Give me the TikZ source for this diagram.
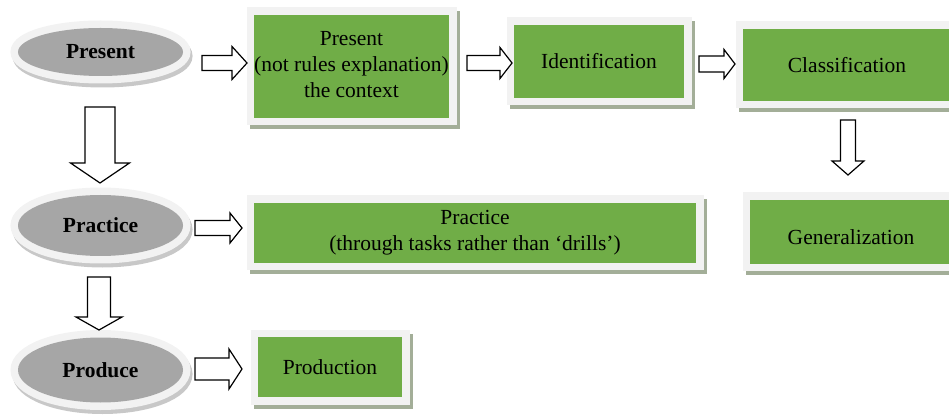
\documentclass[tikz,border=0pt]{standalone}
\usepackage{fontspec}
\setmainfont{Liberation Serif}
\usepackage{tikz}
\usetikzlibrary{
  shapes.geometric,
  positioning,
  calc
}
\definecolor{pppGreen}{RGB}{112,173,71}
\definecolor{pppFrame}{RGB}{242,242,242}
\definecolor{pppShade}{RGB}{163,174,152}
\definecolor{pppDisc}{RGB}{166,166,166}
\definecolor{pppRim}{RGB}{200,200,200}

\tikzset{
  stagebox/.style={fill=pppGreen, inner sep=0pt, outer sep=0pt, align=center,
    preaction={draw=pppShade, fill=pppShade, line width=15pt,
      transform canvas={shift={(3pt,-4pt)}}},
    preaction={draw=pppFrame, fill=pppFrame, line width=15pt}},
  stagedisc/.style={ellipse, fill=pppDisc, inner sep=0pt, outer sep=0pt,
    minimum width=165pt, font=\fontsize{21.5}{26}\selectfont\bfseries,
    preaction={draw=pppRim, line width=15pt,
      transform canvas={shift={(2pt,-4pt)}}},
    preaction={draw=pppFrame, line width=15pt}},
  blockline/.style={draw=black, fill=white, line width=1.2pt, line join=miter}
}

% hollow block arrow: start, tip, half shaft, half head, head length
\newcommand{\blockarrow}[5]{%
  \path #1 coordinate (ba-s) #2 coordinate (ba-e);
  \coordinate (ba-h) at ($(ba-e)!#5!(ba-s)$);
  \draw[blockline] ($(ba-s)!#3!90:(ba-e)$) -- ($(ba-h)!#3!90:(ba-e)$)
    -- ($(ba-h)!#4!90:(ba-e)$) -- (ba-e) -- ($(ba-h)!#4!-90:(ba-e)$)
    -- ($(ba-h)!#3!-90:(ba-e)$) -- ($(ba-s)!#3!-90:(ba-e)$) -- cycle;
}

\begin{document}
\begin{tikzpicture}[x=1pt, y=-1pt, font=\fontsize{21.5}{26}\selectfont]

\useasboundingbox (0,0) rectangle (949,419);
\clip (0,0) rectangle (949,419);

% Stages (left column)
\node[stagedisc, minimum height=48pt] (pres) at (100.5,52)  {Present};
\node[stagedisc, minimum height=61pt] (prac) at (100.5,225.5) {Practice};
\node[stagedisc, minimum height=65pt] (prod) at (100.5,370) {Produce};

% Boxes
\node[stagebox, minimum width=195pt, minimum height=103pt] (ctx)   at (351.5,66.5)
  {\raisebox{4pt}{\begin{tabular}{@{}c@{}}Present\\(not rules explanation)\\the context\end{tabular}}};
\node[stagebox, minimum width=170pt, minimum height=73pt]  (ident) at (599,61.5) {Identification};
\node[stagebox, minimum width=208pt, minimum height=72pt]  (class) at (847,65) {Classification};
\node[stagebox, minimum width=202pt, minimum height=64pt]  (gen)   at (851,232)
  {\raisebox{-13pt}[0pt][0pt]{Generalization}};
\node[stagebox, minimum width=442pt, minimum height=60pt]  (task)  at (475,233)
  {Practice\\(through tasks rather than ‘drills’)};
\node[stagebox, minimum width=144pt, minimum height=60pt]  (prodn) at (330,367) {Production};

% Arrows right
\blockarrow{($(pres.east)+(19,11)$)}{($(ctx.west)+(-7,-3.5)$)}{7.5pt}{16.5pt}{15pt}
\blockarrow{($(ctx.east)+(18,-3.5)$)}{($(ident.west)+(-2,1.5)$)}{7.5pt}{15.5pt}{12pt}
\blockarrow{($(ident.east)+(15,2.5)$)}{($(class.west)+(-8,-1)$)}{8pt}{14.5pt}{11pt}
\blockarrow{($(prac.east)+(12,2.5)$)}{($(task.west)+(-12,-5)$)}{7.5pt}{15pt}{12pt}
\blockarrow{($(prod.east)+(12,-1)$)}{($(prodn.west)+(-16,2)$)}{11pt}{20pt}{13pt}

% Arrows down
\blockarrow{($(pres.south)+(-0.5,31)$)}{($(prac.north)+(-0.5,-12)$)}{15pt}{29.5pt}{20pt}
\blockarrow{($(prac.south)+(-1.5,21)$)}{($(prod.north)+(-1.5,-7.5)$)}{11.5pt}{23pt}{13pt}
\blockarrow{($(class.south)+(1,19)$)}{($(gen.north)+(-3,-25)$)}{7.5pt}{16pt}{14pt}

\end{tikzpicture}
\end{document}
